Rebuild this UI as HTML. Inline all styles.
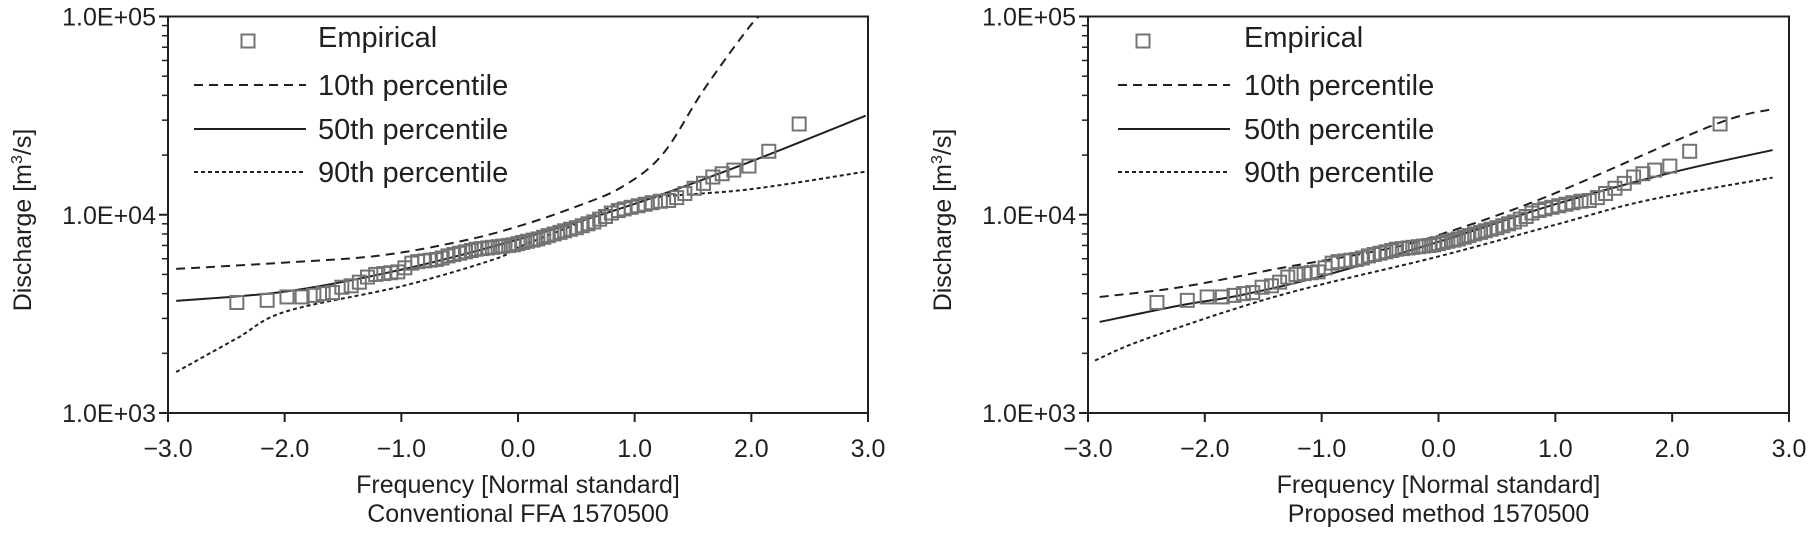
<!DOCTYPE html>
<html><head><meta charset="utf-8"><style>
html,body{margin:0;padding:0;background:#fff;}
svg{display:block;font-family:"Liberation Sans",Arial,sans-serif;}
</style></head><body>
<svg id="chart" width="1814" height="534" viewBox="0 0 1814 534" xmlns="http://www.w3.org/2000/svg"></svg>
<script>
// ---- data ----
const empZ = [-2.41,-2.15,-1.98,-1.85,-1.75,-1.67,-1.59,-1.51,-1.43,-1.36,-1.29,-1.22,-1.15,-1.09,-1.03,-0.97,-0.91,-0.86,-0.80,-0.75,-0.70,-0.65,-0.60,-0.55,-0.50,-0.45,-0.40,-0.36,-0.31,-0.26,-0.22,-0.17,-0.13,-0.08,-0.04,0.0,0.04,0.08,0.13,0.17,0.22,0.26,0.31,0.36,0.40,0.45,0.50,0.55,0.60,0.65,0.70,0.75,0.80,0.86,0.91,0.97,1.03,1.09,1.15,1.22,1.29,1.36,1.43,1.51,1.59,1.67,1.75,1.85,1.98,2.15,2.41];
const empQ = [3610,3700,3850,3850,3920,4000,4050,4310,4380,4570,4850,5000,5050,5100,5150,5400,5700,5800,5850,5900,5950,6050,6200,6300,6400,6500,6600,6700,6750,6800,6850,6900,6950,7000,7050,7150,7250,7350,7450,7550,7700,7850,8000,8150,8300,8450,8600,8800,9000,9200,9500,9800,10200,10500,10700,10900,11100,11300,11500,11700,11800,12200,12800,13600,14400,15500,16100,16800,17600,20900,28700];

const convP10Z = [-2.93,-1.99,-1.19,-0.50,0.0,0.50,0.89,1.24,1.59,1.99,2.12];
const convP10Q = [5330,5740,6220,7330,8730,11000,13800,20200,42500,89700,105000];
const convP50Z = [-2.93,-1.99,-0.99,0.0,0.99,1.99,2.98];
const convP50Q = [3680,4100,5300,7500,11300,18500,31600];
const convP90Z = [-2.93,-2.41,-1.99,-0.99,-0.20,0.0,0.50,0.99,1.99,2.98];
const convP90Q = [1610,2380,3250,4370,5970,6840,8970,11800,13450,16500];

const propP10Z = [-2.90,-2.21,-1.36,-0.50,0.0,0.92,2.35,2.86];
const propP10Q = [3850,4310,5370,6620,7900,12300,28300,34100];
const propP50Z = [-2.90,-2.21,-1.70,-1.00,0.0,1.00,2.01,2.86];
const propP50Q = [2880,3490,3920,4900,7300,11300,16400,21200];
const propP90Z = [-2.94,-2.50,-1.36,0.0,1.00,1.78,2.86];
const propP90Q = [1840,2370,3920,6160,8900,11800,15400];

const xTicks = [-3,-2,-1,0,1,2,3];
const xTickLabels = ["\u22123.0","\u22122.0","\u22121.0","0.0","1.0","2.0","3.0"];
const yTicks = [3,4,5];
const yTickLabels = ["1.0E+03","1.0E+04","1.0E+05"];
const legendLabels = ["Empirical","10th percentile","50th percentile","90th percentile"];

const NS = "http://www.w3.org/2000/svg";
const svg = document.getElementById('chart');
function mk(tag, attrs, parent){ const e=document.createElementNS(NS,tag); for(const k in attrs) e.setAttribute(k,attrs[k]); (parent||svg).appendChild(e); return e; }

const INK="#231f20";
function panel(cfg){
  const g = mk('g',{});
  
  
  const L=cfg.left, R=cfg.right, T=16.5, B=413;
  const xs = z => L + (z+3)/6*(R-L);
  const ys = q => T + (5-Math.log10(q))/2*(B-T);
  const cid='clip'+cfg.id;
  const cp=mk('clipPath',{id:cid},g); mk('rect',{x:L,y:T,width:R-L,height:B-T},cp);
  const fr=mk('rect',{x:L,y:T,width:R-L,height:B-T,fill:'none',stroke:INK,'stroke-width':2},g);
  
  
  for(let d=3; d<5; d++){
    for(let m=2;m<=9;m++){
      const y=ys(m*Math.pow(10,d));
      mk('line',{x1:L-6,x2:L,y1:y,y2:y,stroke:INK,'stroke-width':1.5},g);
    }
  }
  yTicks.forEach((t,i)=>{
    const y=ys(Math.pow(10,t));
    mk('line',{x1:L-9,x2:L,y1:y,y2:y,stroke:INK,'stroke-width':2},g);
    const tx=mk('text',{x:L-12,y:y+9,'text-anchor':'end','font-size':25,fill:INK},g);
    
    
    tx.textContent=yTickLabels[i];
  });
  xTicks.forEach((t,i)=>{
    const x=xs(t);
    mk('line',{x1:x,x2:x,y1:B,y2:B+9,stroke:INK,'stroke-width':2},g);
    const tx=mk('text',{x:x,y:457,'text-anchor':'middle','font-size':25,fill:INK},g);
    
    
    tx.textContent=xTickLabels[i];
  });
  const xt=mk('text',{x:(L+R)/2,y:493,'text-anchor':'middle','font-size':25,fill:INK},g);
  
  
  xt.textContent='Frequency [Normal standard]';
  const cap=mk('text',{x:(L+R)/2,y:522,'text-anchor':'middle','font-size':25,fill:INK},g);
  
  
  cap.textContent=cfg.caption;
  const yx=L-146, yy=220;
  const yt=mk('text',{x:yx,y:yy,'text-anchor':'middle','font-size':25,fill:INK,transform:`rotate(-90 ${yx} ${yy}) translate(0 9)`},g);
  
  
  yt.innerHTML='Discharge [m<tspan dy="-9" font-size="16">3</tspan><tspan dy="9">/s]</tspan>';
  const cg=mk('g',{'clip-path':`url(#${cid})`},g);
  function curve(Z,Q,dash,name){
    const pts=Z.map((z,i)=>[xs(z),ys(Q[i])]);
    let d=`M${pts[0][0]},${pts[0][1]}`;
    for(let i=0;i<pts.length-1;i++){
      const p0=pts[i-1]||pts[i], p1=pts[i], p2=pts[i+1], p3=pts[i+2]||p2;
      const c1=[p1[0]+(p2[0]-p0[0])/6, p1[1]+(p2[1]-p0[1])/6];
      const c2=[p2[0]-(p3[0]-p1[0])/6, p2[1]-(p3[1]-p1[1])/6];
      d+=` C${c1[0]},${c1[1]} ${c2[0]},${c2[1]} ${p2[0]},${p2[1]}`;
    }
    const p=mk('path',{d:d,fill:'none',stroke:INK,'stroke-width':2,'stroke-dasharray':dash},cg);
    
    
  }
  curve(cfg.p10Z,cfg.p10Q,'9 6','line-10th-percentile');
  curve(cfg.p50Z,cfg.p50Q,'none','line-50th-percentile');
  curve(cfg.p90Z,cfg.p90Q,'4 3','line-90th-percentile');
  empZ.forEach((z,i)=>{
    const r=mk('rect',{x:xs(z)-6.5,y:ys(empQ[i])-6.5,width:13,height:13,fill:'none',stroke:'#737373','stroke-width':2},cg);
    
    
  });
  const lg=mk('g',{},g);
  
  
  const rows=[41,85,129,172];
  const mr=mk('rect',{x:cfg.legMarker-6.5,y:rows[0]-6.5,width:13,height:13,fill:'none',stroke:'#737373','stroke-width':2},lg);
  
  
  const dashes=['9 6','none','4 3'];
  for(let k=0;k<3;k++){
    const ln=mk('line',{x1:cfg.legLine0,x2:cfg.legLine1,y1:rows[k+1],y2:rows[k+1],stroke:INK,'stroke-width':2,'stroke-dasharray':dashes[k]},lg);
    
    
  }
  legendLabels.forEach((s,k)=>{
    const t=mk('text',{x:cfg.legText,y:rows[k]+(k==0?6:10),'font-size':29,fill:INK},lg);
    
    
    t.textContent=s;
  });
}
panel({id:1,name:'panel-conventional',left:168,right:868,caption:'Conventional FFA 1570500',
  p10Z:convP10Z,p10Q:convP10Q,p50Z:convP50Z,p50Q:convP50Q,p90Z:convP90Z,p90Q:convP90Q,
  legMarker:248,legLine0:194,legLine1:306,legText:318});
panel({id:2,name:'panel-proposed',left:1088,right:1789,caption:'Proposed method 1570500',
  p10Z:propP10Z,p10Q:propP10Q,p50Z:propP50Z,p50Q:propP50Q,p90Z:propP90Z,p90Q:propP90Q,
  legMarker:1143,legLine0:1118,legLine1:1230,legText:1244});
</script>
</body></html>
